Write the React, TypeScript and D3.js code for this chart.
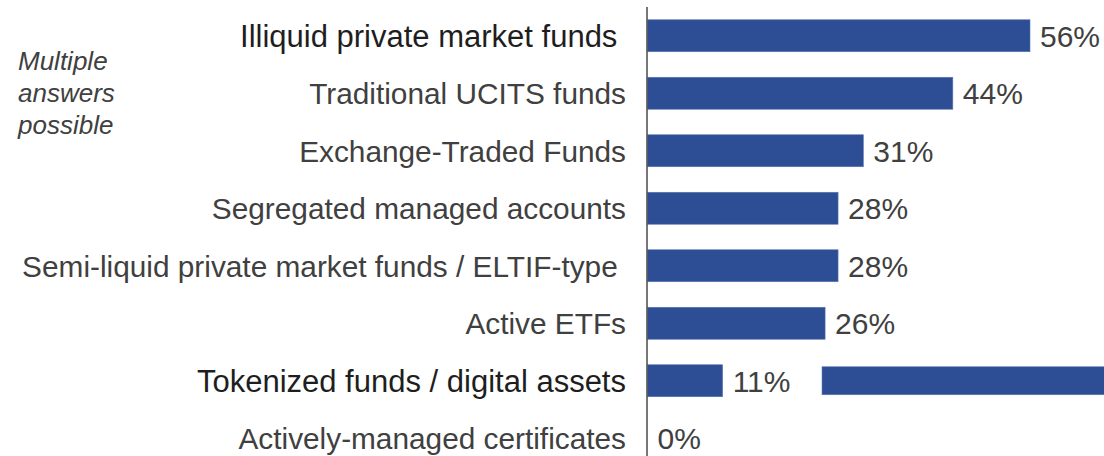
import React from 'react';
import * as d3 from 'd3';

const categories = [
  'Illiquid private market funds ',
  'Traditional UCITS funds',
  'Exchange-Traded Funds',
  'Segregated managed accounts',
  'Semi-liquid private market funds / ELTIF-type ',
  'Active ETFs',
  'Tokenized funds / digital assets',
  'Actively-managed certificates',
];
const shares = [56, 44.7, 31.6, 27.9, 27.9, 26, 11, 0];
const shareLabels = ['56%', '44%', '31%', '28%', '28%', '26%', '11%', '0%'];
const highlighted = ['Illiquid private market funds ', 'Tokenized funds / digital assets'];
const noteLines = ['Multiple', 'answers', 'possible'];
// stray band on the tokenized row (cut off at right edge)
const calloutRow = 'Tokenized funds / digital assets';
const calloutRange = [25.55, 70];

const W = 1104;
const H = 456;
const BAR = '#2D4E94';
const TEXT = '#404040';

const App: React.FC = () => {
  const x = d3.scaleLinear().domain([0, 56]).range([647.5, 1030]);
  const y = d3.scaleBand<string>().domain(categories).range([7, 467]).paddingInner(0.444).paddingOuter(0.222);

  const font = '"Liberation Sans", Arial, sans-serif';

  return (
    <svg width={W} height={H} style={{ position: 'absolute', left: 0, top: 0, background: '#fff' }}>
      <g fontFamily={font}>
        {noteLines.map((t, i) => (
          <text key={t} x={18} y={70 + i * 32} fontSize={26} fontStyle="italic" fill={TEXT}>
            {t}
          </text>
        ))}

        {categories.map((c, i) => {
          const cy = (y(c) ?? 0) + y.bandwidth() / 2;
          const bold = highlighted.includes(c);
          return (
            <g key={c}>
              <text
                x={626}
                y={cy + 11}
                textAnchor="end"
                fontSize={bold ? 31 : 29.8}
                fill={bold ? '#1e1e1e' : TEXT}
                style={{ whiteSpace: 'pre' }}
              >
                {c}
              </text>
              {shares[i] > 0 && (
                <rect
                  x={x(0)}
                  y={y(c)}
                  width={x(shares[i]) - x(0)}
                  height={y.bandwidth()}
                  fill={BAR}
                  stroke="#5a76b4"
                  strokeWidth={0.6}
                />
              )}
              <text x={x(shares[i]) + 10} y={cy + 11} fontSize={30} fill={TEXT}>
                {shareLabels[i]}
              </text>
            </g>
          );
        })}

        <rect
          x={x(calloutRange[0])}
          y={(y(calloutRow) ?? 0) + 2}
          width={x(calloutRange[1]) - x(calloutRange[0])}
          height={y.bandwidth() - 4}
          fill={BAR}
          stroke="#5a76b4"
          strokeWidth={0.6}
        />

        <line x1={x(0) - 0.5} x2={x(0) - 0.5} y1={7} y2={H} stroke="#4a4a4a" strokeWidth={1.5} />
      </g>
    </svg>
  );
};

export default App;
